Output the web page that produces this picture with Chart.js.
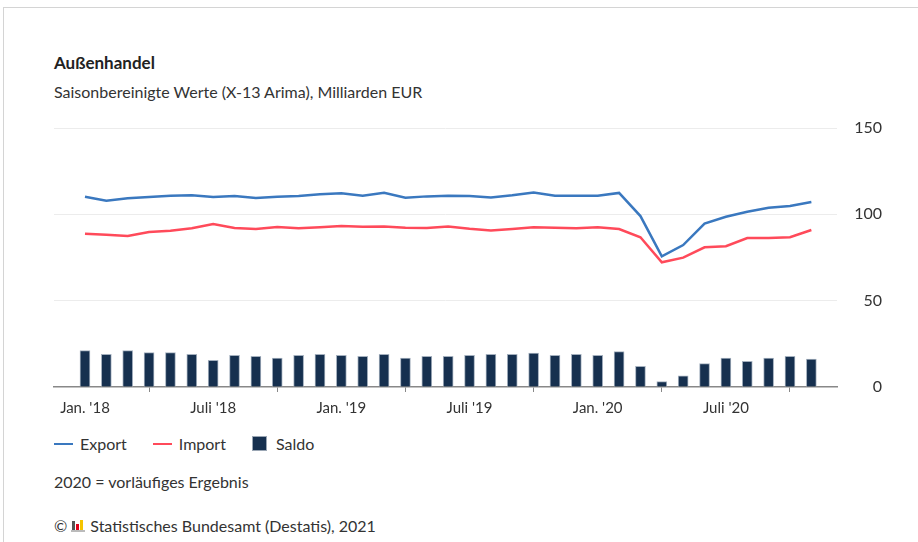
<!DOCTYPE html>
<html lang="de">
<head>
<meta charset="utf-8">
<script src="https://cdn.jsdelivr.net/npm/chart.js@4"></script>
<style>
  html, body { margin: 0; padding: 0; background: #fff; }
  body { width: 918px; height: 542px; position: relative; overflow: hidden; font-family: Lato, "Noto Sans", sans-serif; color: #333; }
  .card { position: absolute; left: 3px; top: 7px; width: 940px; height: 560px; border: 1px solid #d4d4d4; }
  .title { position: absolute; left: 54px; top: 52px; font-size: 17px; font-weight: bold; color: #222; }
  .subtitle { position: absolute; left: 54px; top: 82px; font-size: 16px; color: #333; }
  #wrap { position: absolute; left: 0; top: 100px; width: 918px; height: 330px; }
  .legend { position: absolute; left: 54px; top: 434px; font-size: 16px; color: #333; display: flex; align-items: center; }
  .legend .item { display: flex; align-items: center; margin-right: 26px; }
  .legend .ln { width: 19px; height: 2px; margin-right: 7px; }
  .legend .sq { width: 15px; height: 15px; background: #16304f; border: 1px solid #9aa6b4; box-sizing: border-box; margin-right: 9px; }
  .note { position: absolute; left: 54px; top: 472px; font-size: 16px; color: #333; }
  .source { position: absolute; left: 54px; top: 516px; font-size: 16px; color: #333; display: flex; align-items: center; }
  .logo { display: inline-flex; align-items: flex-end; height: 11px; margin: 0 5px 0 4px; border-bottom: 2px solid #bbb; padding: 0 1px; }
  .logo span { display: inline-block; width: 3px; margin-right: 1px; }
</style>
</head>
<body>
<div class="card"></div>
<div class="title">Außenhandel</div>
<div class="subtitle">Saisonbereinigte Werte (X-13 Arima), Milliarden EUR</div>
<div id="wrap"><canvas id="chart" width="918" height="330"></canvas></div>
<div class="legend">
  <div class="item"><div class="ln" style="background:#3a78bf"></div>Export</div>
  <div class="item"><div class="ln" style="background:#ff4a5a"></div>Import</div>
  <div class="item"><div class="sq"></div>Saldo</div>
</div>
<div class="note">2020 = vorläufiges Ergebnis</div>
<div class="source">©<span class="logo"><span style="height:9px;background:#555"></span><span style="height:6px;background:#e2001a"></span><span style="height:10px;background:#f5c400"></span></span>Statistisches Bundesamt (Destatis), 2021</div>

<script>
// Months Jan 2018 .. Nov 2020
const months = [
  'Jan. 18', 'Feb. 18', 'Mär. 18', 'Apr. 18', 'Mai 18', 'Juni 18',
  'Juli 18', 'Aug. 18', 'Sep. 18', 'Okt. 18', 'Nov. 18', 'Dez. 18',
  'Jan. 19', 'Feb. 19', 'Mär. 19', 'Apr. 19', 'Mai 19', 'Juni 19',
  'Juli 19', 'Aug. 19', 'Sep. 19', 'Okt. 19', 'Nov. 19', 'Dez. 19',
  'Jan. 20', 'Feb. 20', 'Mär. 20', 'Apr. 20', 'Mai 20', 'Juni 20',
  'Juli 20', 'Aug. 20', 'Sep. 20', 'Okt. 20', 'Nov. 20'
];

const exportValues = [
  110.2, 107.9, 109.3, 110.0, 110.8, 111.0, 110.0, 110.6, 109.5, 110.2, 110.6, 111.6,
  112.2, 110.8, 112.5, 109.6, 110.4, 110.8, 110.6, 109.8, 111.0, 112.7, 110.8, 110.8,
  110.8, 112.4, 99.0, 75.7, 82.2, 94.6, 98.6, 101.5, 103.8, 104.8, 107.1
];

const importValues = [
  88.8, 88.2, 87.5, 89.8, 90.5, 91.9, 94.4, 92.1, 91.5, 92.7, 91.9, 92.5,
  93.2, 92.8, 93.0, 92.3, 92.1, 93.0, 91.7, 90.7, 91.5, 92.5, 92.3, 91.9,
  92.5, 91.5, 86.7, 72.2, 74.9, 80.9, 81.5, 86.3, 86.3, 86.7, 90.9
];

const saldoValues = [
  21.1, 18.9, 21.1, 19.9, 19.9, 18.9, 15.5, 18.4, 17.8, 16.8, 18.4, 18.9,
  18.4, 17.8, 18.9, 16.8, 17.8, 17.8, 18.4, 18.9, 18.9, 19.7, 18.4, 18.9,
  18.4, 20.5, 12.0, 3.1, 6.4, 13.5, 16.8, 14.9, 16.8, 17.8, 16.2
];

// x tick labels every six months
const tickLabels = { 0: "Jan. '18", 6: "Juli '18", 12: "Jan. '19", 18: "Juli '19", 24: "Jan. '20", 30: "Juli '20" };

const toPoints = arr => arr.map((v, i) => ({ x: i, y: v }));

new Chart(document.getElementById('chart').getContext('2d'), {
  data: {
    datasets: [
      {
        type: 'line',
        label: 'Export',
        data: toPoints(exportValues),
        borderColor: '#3a78bf',
        borderWidth: 2.5,
        pointRadius: 0,
        tension: 0,
        order: 1
      },
      {
        type: 'line',
        label: 'Import',
        data: toPoints(importValues),
        borderColor: '#ff4a5a',
        borderWidth: 2.5,
        pointRadius: 0,
        tension: 0,
        order: 2
      },
      {
        type: 'bar',
        label: 'Saldo',
        data: toPoints(saldoValues),
        backgroundColor: '#16304f',
        borderColor: '#a4b0be',
        borderWidth: { left: 1, right: 1, top: 1, bottom: 0 },
        barThickness: 10,
        order: 3
      }
    ]
  },
  options: {
    responsive: false,
    animation: false,
    layout: { padding: { left: 54, right: 36, top: 28, bottom: 13 } },
    plugins: { legend: { display: false }, tooltip: { enabled: false } },
    scales: {
      x: {
        type: 'linear',
        min: -1.45,
        max: 35.2,
        offset: false,
        afterBuildTicks: scale => {
          scale.ticks = Object.keys(tickLabels).map(k => ({ value: Number(k) }));
        },
        afterFit: scale => { scale.height = 30; },
        ticks: {
          autoSkip: false,
          maxRotation: 0,
          padding: 7,
          color: '#333',
          font: { family: 'Lato, "Noto Sans", sans-serif', size: 15 },
          callback: v => tickLabels[v] || ''
        },
        grid: { drawOnChartArea: false, drawTicks: true, tickLength: 5, color: '#888', lineWidth: 1 },
        border: { display: true, color: '#888', width: 1.5 }
      },
      y: {
        position: 'right',
        min: 0,
        max: 150,
        afterBuildTicks: scale => {
          scale.ticks = [0, 50, 100, 150].map(v => ({ value: v }));
        },
        afterFit: scale => { scale.width = 45; },
        ticks: {
          crossAlign: 'far',
          padding: 0,
          color: '#333',
          font: { family: 'Lato, "Noto Sans", sans-serif', size: 16 }
        },
        grid: {
          drawTicks: false,
          color: ctx => ctx.tick && ctx.tick.value === 0 ? 'rgba(0,0,0,0)' : '#ececec'
        },
        border: { display: false }
      }
    }
  }
});
</script>
</body>
</html>
